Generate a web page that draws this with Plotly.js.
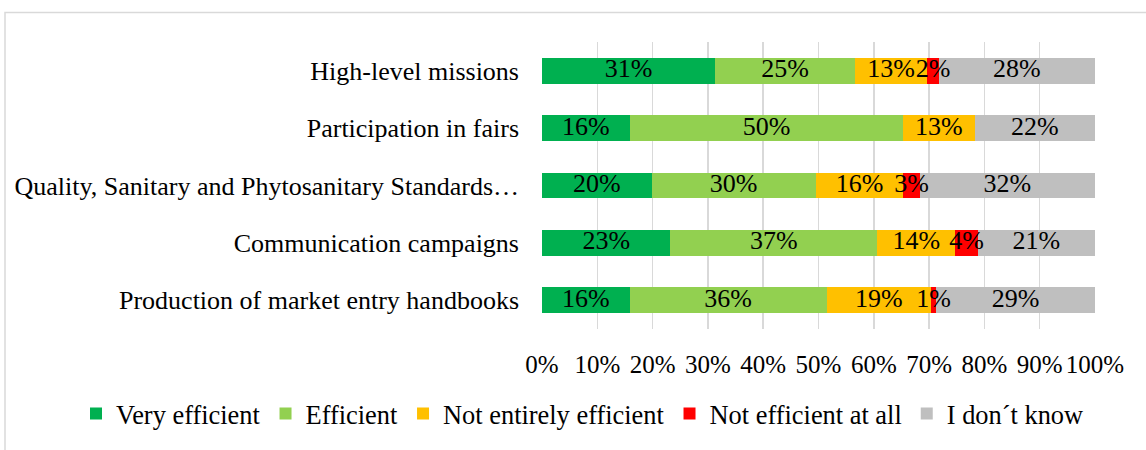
<!DOCTYPE html>
<html>
<head>
<meta charset="utf-8">
<script src="https://cdn.plot.ly/plotly-3.0.1.min.js"></script>
<style>html,body{margin:0;padding:0;background:#fff;}#chart{width:1146px;height:450px;}</style>
</head>
<body>
<div id="chart"></div>
<script>
const categories = [
  "High-level missions",
  "Participation in fairs",
  "Quality, Sanitary and Phytosanitary Standards…",
  "Communication campaigns",
  "Production of market entry handbooks"
];
const veryEfficient = [31, 16, 20, 23, 16];
const efficient = [25, 50, 30, 37, 36];
const notEntirely = [13, 13, 16, 14, 19];
const notAtAll = [2, 0, 3, 4, 1];
const dontKnow = [28, 22, 32, 21, 29];
const seriesNames = ["Very efficient", "Efficient", "Not entirely efficient", "Not efficient at all", "I don´t know"];
const seriesValues = [veryEfficient, efficient, notEntirely, notAtAll, dontKnow];
const seriesColors = ["#00B050", "#92D050", "#FFC000", "#FF0000", "#BFBFBF"];
const tickVals = [0, 10, 20, 30, 40, 50, 60, 70, 80, 90, 100];
const tickText = ["0%", "10%", "20%", "30%", "40%", "50%", "60%", "70%", "80%", "90%", "100%"];

const FONT = "Liberation Serif, Times New Roman, serif";

// 100% stacked: each row scaled to its own total
const rowTotals = categories.map((_, r) => seriesValues.reduce((s, arr) => s + arr[r], 0));
const shares = seriesValues.map(arr => arr.map((v, r) => v / rowTotals[r] * 100));

const barTraces = seriesNames.map((name, i) => ({
  type: "bar",
  orientation: "h",
  name: name,
  y: categories,
  x: shares[i],
  hoverinfo: "skip",
  marker: {color: seriesColors[i], line: {width: 0}}
}));

// data labels drawn on top of all bars (centered on each segment)
const labelTraces = seriesNames.map((name, i) => ({
  type: "scatter",
  mode: "text",
  showlegend: false,
  hoverinfo: "skip",
  cliponaxis: false,
  y: categories,
  x: shares[i].map((s, r) => {
    let start = 0;
    for (let k = 0; k < i; k++) start += shares[k][r];
    return start + s / 2;
  }),
  text: seriesValues[i].map(v => v > 0 ? v + "%" : ""),
  textposition: "middle center",
  textfont: {family: FONT, size: 26, color: "#000"}
}));

// plot area in pixels
const L = 542, R = 1095, T = 42, B = 333, W = 1146, H = 450;
const px = x => (x - L) / (R - L);
const py = y => (B - y) / (B - T);

const layout = {
  width: W, height: H,
  margin: {l: L, r: W - R, t: T, b: H - B, pad: 0},
  paper_bgcolor: "#fff",
  plot_bgcolor: "#fff",
  barmode: "stack",
  bargap: 0.55,
  font: {family: FONT, size: 26, color: "#000"},
  showlegend: true,
  legend: {
    orientation: "h",
    xref: "paper", yref: "paper",
    x: px(76), xanchor: "left",
    y: py(419), yanchor: "middle",
    font: {family: FONT, size: 26.4, color: "#000"},
    traceorder: "normal",
    itemclick: false
  },
  xaxis: {
    range: [0, 100],
    tickvals: tickVals,
    ticktext: tickText,
    showgrid: true,
    gridcolor: "#D9D9D9",
    gridwidth: 1.5,
    zeroline: false,
    showline: false,
    ticks: "",
    ticklabelstandoff: 18,
    tickfont: {family: FONT, size: 25, color: "#000"},
    fixedrange: true
  },
  yaxis: {
    type: "category",
    autorange: "reversed",
    showgrid: false,
    zeroline: false,
    showline: false,
    ticks: "",
    ticklabelstandoff: 22,
    tickfont: {family: FONT, size: 26, color: "#000"},
    fixedrange: true
  },
  shapes: [{
    type: "rect", xref: "paper", yref: "paper",
    x0: px(5), x1: px(1160), y0: py(470), y1: py(12),
    line: {color: "#D9D9D9", width: 1.5},
    fillcolor: "rgba(0,0,0,0)",
    layer: "below"
  }]
};

Plotly.newPlot("chart", barTraces.concat(labelTraces), layout, {displayModeBar: false, staticPlot: true});
</script>
</body>
</html>
